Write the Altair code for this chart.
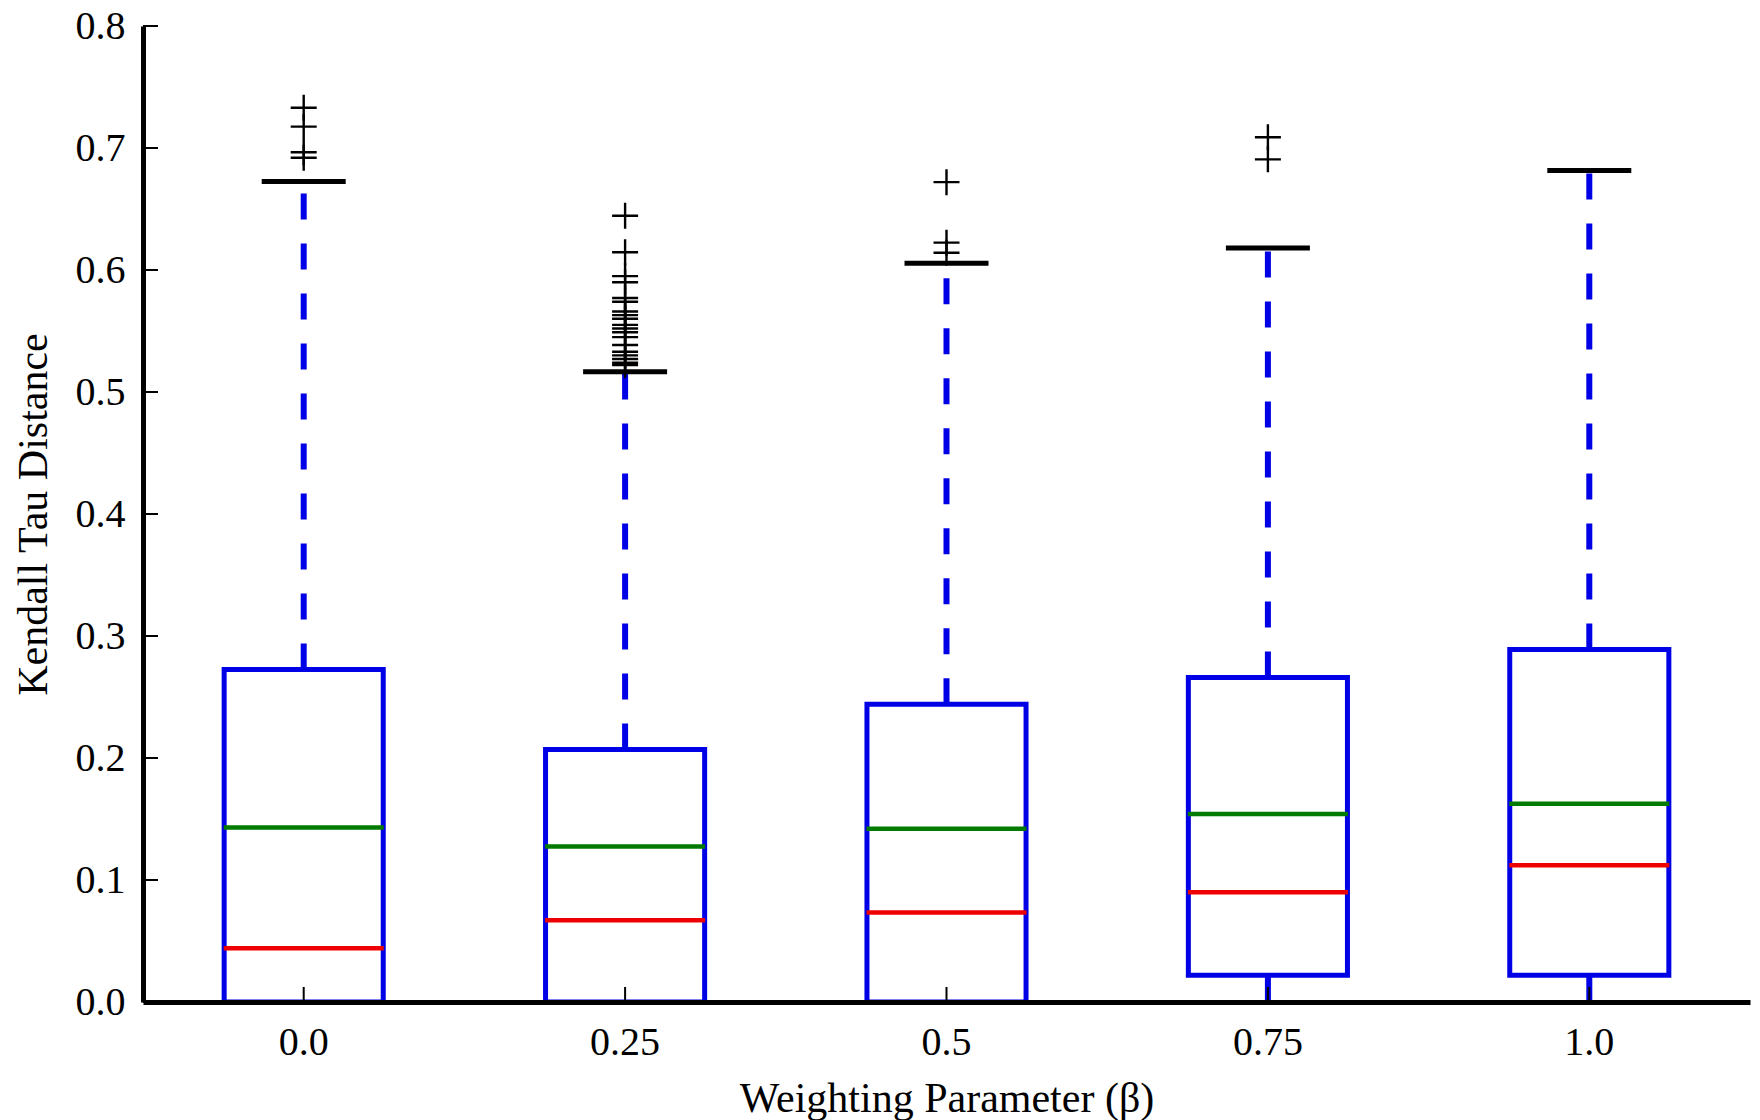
import altair as alt
import pandas as pd

categories = ["0.0", "0.25", "0.5", "0.75", "1.0"]
q1 = [0.0, 0.0, 0.0, 0.022, 0.022]
q3 = [0.2725, 0.207, 0.244, 0.266, 0.289]
median = [0.044, 0.067, 0.0734, 0.090, 0.112]
mean = [0.143, 0.1275, 0.142, 0.154, 0.1624]
whisker_hi = [0.6725, 0.5165, 0.6055, 0.618, 0.6816]
whisker_lo = [0.0, 0.0, 0.0, 0.0, 0.0]

outliers = {
    "0.0": [0.733, 0.7175, 0.6965, 0.692],
    "0.25": [0.6445, 0.6145, 0.595, 0.590, 0.577, 0.574, 0.566, 0.563, 0.560,
             0.555, 0.552, 0.549, 0.545, 0.5385, 0.533, 0.530, 0.527, 0.524, 0.522],
    "0.5": [0.672, 0.6224, 0.6142],
    "0.75": [0.7088, 0.6907],
    "1.0": [],
}

y_ticks = [0.0, 0.1, 0.2, 0.3, 0.4, 0.5, 0.6, 0.7, 0.8]

FONT = "Liberation Serif"
BLUE = "#0000e6"
W, H = 1607, 976

box_df = pd.DataFrame({
    "beta": categories, "q1": q1, "q3": q3, "median": median, "mean": mean,
    "hi": whisker_hi, "lo": whisker_lo,
})
out_df = pd.DataFrame(
    [{"beta": k, "v": v} for k, vals in outliers.items() for v in vals]
)
ytick_df = pd.DataFrame({"v": y_ticks})

x = alt.X("beta:N", sort=categories,
          scale=alt.Scale(paddingInner=0, paddingOuter=0),
          axis=alt.Axis(title="Weighting Parameter (β)", labelAngle=0,
                        ticks=False, labelPadding=20, titlePadding=16,
                        domainWidth=5, domainColor="black", zindex=1))
yscale = alt.Scale(domain=[0, 0.8], nice=False)
yaxis = alt.Axis(title="Kendall Tau Distance", values=y_ticks, format=".1f",
                 ticks=False, labelPadding=18, titlePadding=20,
                 domainWidth=5, domainColor="black", zindex=1, grid=False)

base = alt.Chart(box_df)

whisker_up = base.mark_rule(color=BLUE, strokeWidth=6, strokeDash=[26, 24]).encode(
    x=x, y=alt.Y("q3:Q", scale=yscale, axis=yaxis), y2="hi:Q")
whisker_down = base.mark_rule(color=BLUE, strokeWidth=6, strokeDash=[26, 24]).encode(
    x=x, y=alt.Y("lo:Q", scale=yscale), y2="q1:Q")
box = base.mark_bar(fillOpacity=0, stroke=BLUE, strokeWidth=5,
                    width={"band": 0.495}).encode(
    x=x, y=alt.Y("q1:Q", scale=yscale), y2="q3:Q")
med = base.mark_tick(color="#ee0000", size=160, thickness=4.5, opacity=1).encode(
    x=x, y=alt.Y("median:Q", scale=yscale))
mn = base.mark_tick(color="#007a00", size=160, thickness=4.5, opacity=1).encode(
    x=x, y=alt.Y("mean:Q", scale=yscale))
cap = base.mark_tick(color="black", size=84, thickness=5, opacity=1).encode(
    x=x, y=alt.Y("hi:Q", scale=yscale))
pts = alt.Chart(out_df).mark_point(
    shape="M-1,0H1M0,-1V1", size=676, stroke="black", strokeWidth=2.4,
    filled=False, opacity=1).encode(
    x=x, y=alt.Y("v:Q", scale=yscale))
xticks = base.mark_rule(color="black", strokeWidth=2).encode(
    x=x, y=alt.value(H), y2=alt.value(H - 15))
yticks = alt.Chart(ytick_df).mark_rule(color="black", strokeWidth=2).encode(
    y=alt.Y("v:Q", scale=yscale), x=alt.value(0), x2=alt.value(15))

chart = alt.layer(whisker_up, whisker_down, box, med, mn, cap, pts, xticks, yticks).properties(
    width=W, height=H,
    autosize=alt.AutoSizeParams(type="none"),
    padding={"left": 143, "top": 26, "right": 10, "bottom": 118},
    background="white",
).configure_view(stroke=None).configure_axis(
    labelFont=FONT, titleFont=FONT, labelFontSize=40, titleFontSize=42,
    labelColor="black", titleColor="black", titleFontWeight="normal",
    grid=False,
)

chart.save("out.html", embed_options={"renderer": "svg", "actions": False})
